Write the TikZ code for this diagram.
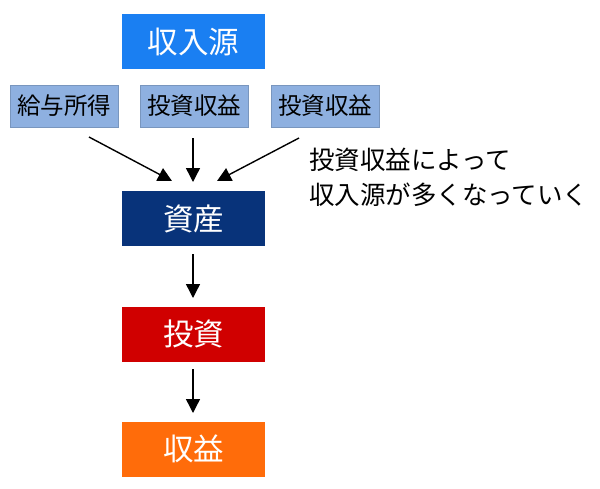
\documentclass[tikz,border=0pt]{standalone}
\usepackage{fontspec}
\setmainfont{Noto Sans CJK JP}
\usetikzlibrary{arrows.meta}
\definecolor{cTop}{HTML}{1A7FF2}
\definecolor{cSmall}{HTML}{8EB0E0}
\definecolor{cAsset}{HTML}{08337A}
\definecolor{cInv}{HTML}{D00000}
\definecolor{cRet}{HTML}{FF6C0A}
\begin{document}
\begin{tikzpicture}[x=1pt,y=-1pt,
  big/.style={minimum width=143pt,minimum height=55pt,inner sep=0pt,text=white,font=\fontsize{30.5}{34}\selectfont},
  small/.style={minimum width=108pt,minimum height=42pt,inner sep=0pt,fill=cSmall,draw=cSmall!85!black,line width=0.4pt,font=\fontsize{23.5}{26}\selectfont},
  arr/.style={-{Triangle[length=14pt,width=14pt]},line width=1.4pt}]
\useasboundingbox (0,0) rectangle (600,488);
\node[big,fill=cTop] (src) at (193.5,41.5) {収入源};
\node[small] (s1) at (64,106) {給与所得};
\node[small] (s2) at (194,106) {投資収益};
\node[small] (s3) at (325,106) {投資収益};
\node[big,fill=cAsset] (asset) at (193.5,218.5) {資産};
\node[big,fill=cInv] (inv) at (193.5,334) {投資};
\node[big,fill=cRet] (ret) at (193.5,449) {収益};
\coordinate (a1) at (89,137); \coordinate (b1) at (172,181);
\coordinate (a2) at (193,138); \coordinate (b2) at (193,182);
\coordinate (a3) at (299,138); \coordinate (b3) at (217,181);
\draw[arr] (a1) -- (b1);
\draw[arr] (a2) -- (b2);
\draw[arr] (a3) -- (b3);
\coordinate (c1) at (193,254); \coordinate (d1) at (193,298);
\coordinate (c2) at (193,369); \coordinate (d2) at (193,413);
\draw[arr] (c1) -- (d1);
\draw[arr] (c2) -- (d2);
\node[anchor=north west,align=left,inner sep=0pt,font=\fontsize{25.5}{35}\selectfont] (note) at (309,148) {投資収益によって\\収入源が多くなっていく};
\end{tikzpicture}
\end{document}
